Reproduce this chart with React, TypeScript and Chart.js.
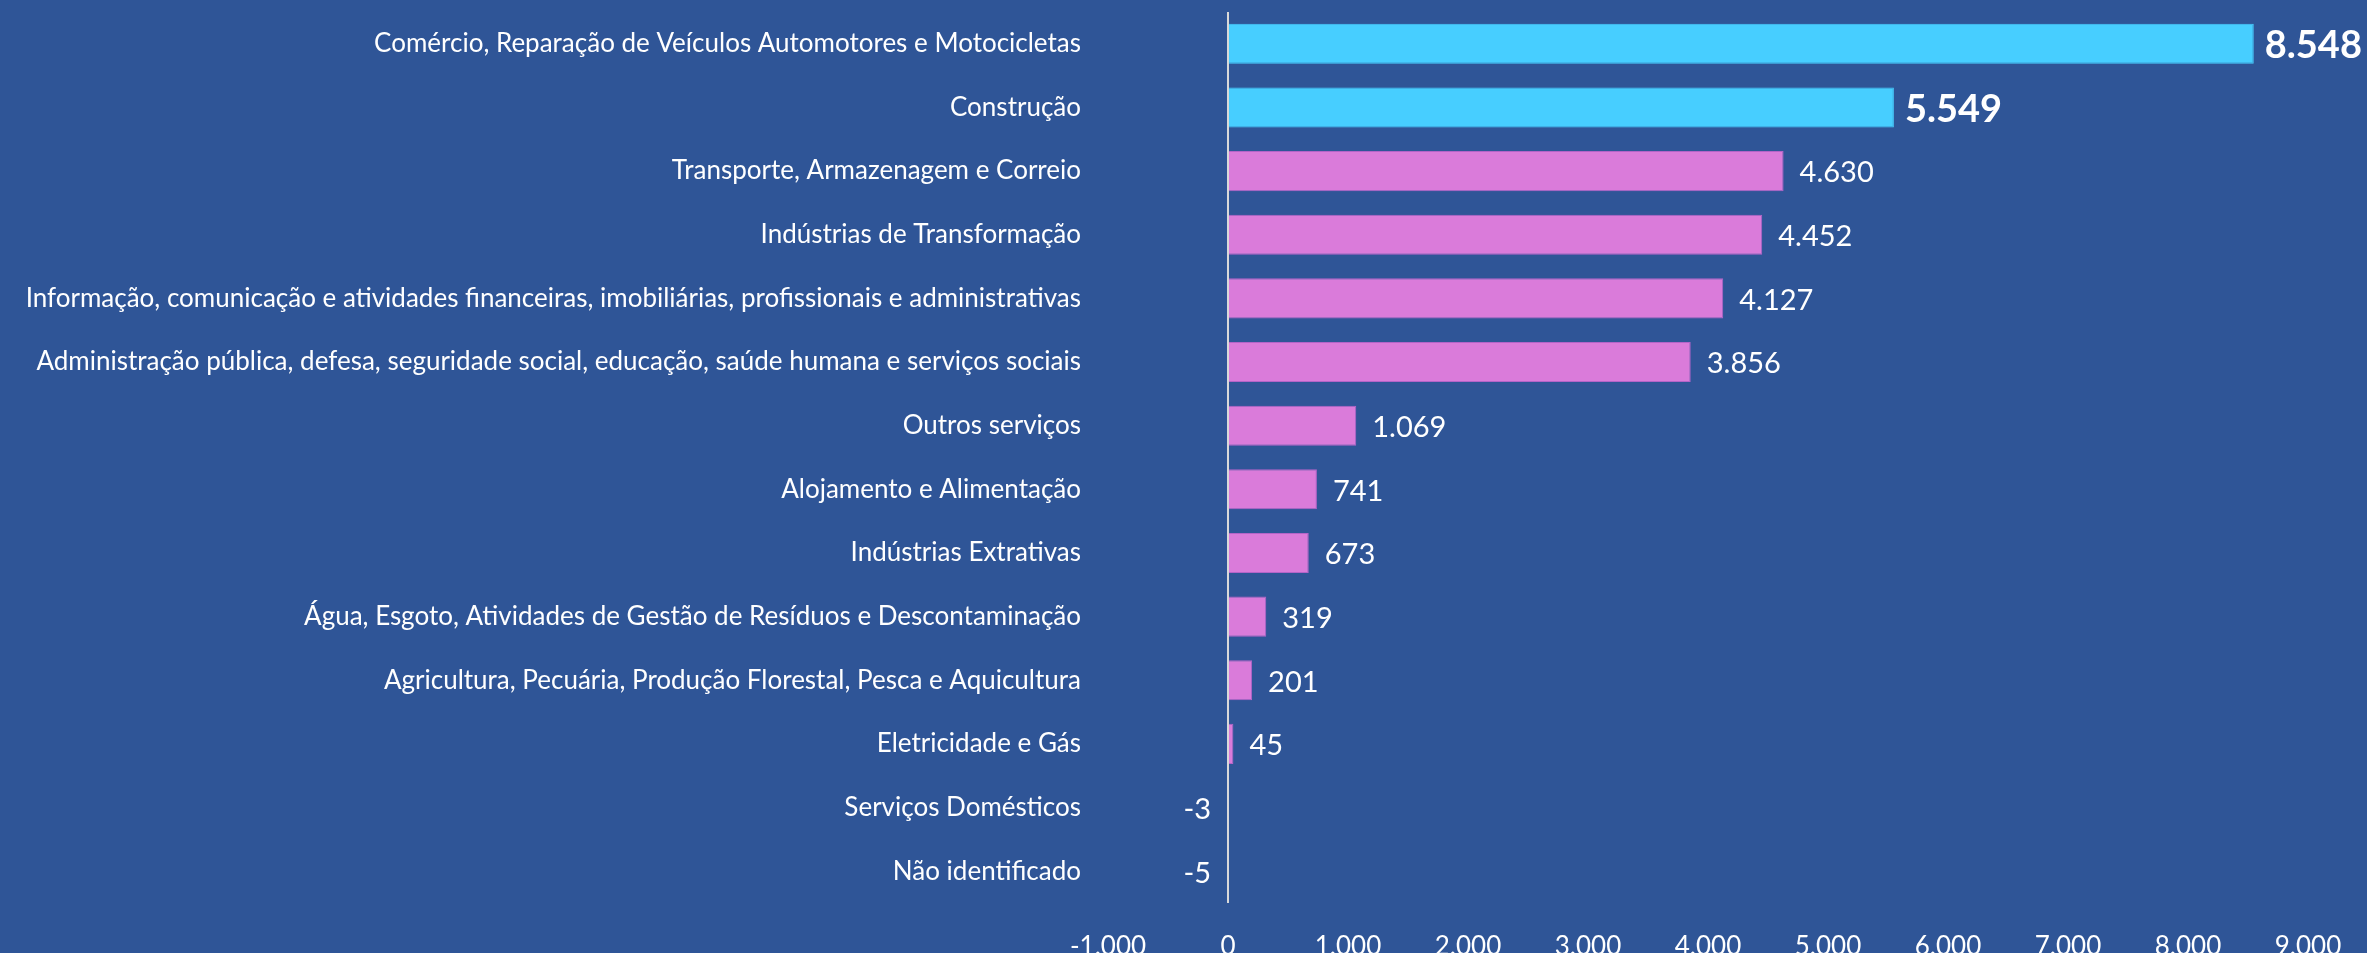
import React, { useEffect, useRef } from "react";
import { Chart, registerables } from "chart.js";

Chart.register(...registerables);

const categories: string[] = [
  "Comércio, Reparação de Veículos Automotores e Motocicletas",
  "Construção",
  "Transporte, Armazenagem e Correio",
  "Indústrias de Transformação",
  "Informação, comunicação e atividades financeiras, imobiliárias, profissionais e administrativas",
  "Administração pública, defesa, seguridade social, educação, saúde humana e serviços sociais",
  "Outros serviços",
  "Alojamento e Alimentação",
  "Indústrias Extrativas",
  "Água, Esgoto, Atividades de Gestão de Resíduos e Descontaminação",
  "Agricultura, Pecuária, Produção Florestal, Pesca e Aquicultura",
  "Eletricidade e Gás",
  "Serviços Domésticos",
  "Não identificado",
];

const values: number[] = [8548, 5549, 4630, 4452, 4127, 3856, 1069, 741, 673, 319, 201, 45, -3, -5];

const highlighted: boolean[] = [true, true, false, false, false, false, false, false, false, false, false, false, false, false];

const xMin = -1000;
const xMax = 9000;
const xStep = 1000;

const BG = "#2F5597";
const CYAN = "#47CEFF";
const MAGENTA = "#DA7BDA";
const MAGENTA_BORDER = "#B464C8";
const FONT = "Lato, 'Open Sans', sans-serif";

function fmt(v: number): string {
  const neg = v < 0;
  const s = Math.round(Math.abs(v)).toString().replace(/\B(?=(\d{3})+(?!\d))/g, ".");
  return (neg ? "-" : "") + s;
}

const valueLabels = {
  id: "valueLabels",
  afterDatasetsDraw(chart: any) {
    const ctx = chart.ctx;
    const meta = chart.getDatasetMeta(0);
    ctx.save();
    ctx.fillStyle = "#FFFFFF";
    ctx.textBaseline = "middle";
    meta.data.forEach((bar: any, i: number) => {
      const v = values[i];
      const bold = highlighted[i];
      ctx.font = bold ? `bold 38px ${FONT}` : `29px ${FONT}`;
      if (v >= 0) {
        ctx.textAlign = "left";
        ctx.fillText(fmt(v), bar.x + (bold ? 11 : 16), bar.y + 2);
      } else {
        ctx.textAlign = "right";
        ctx.fillText(fmt(v), bar.base - 17, bar.y + 2);
      }
    });
    ctx.restore();
  },
};

export default function App() {
  const ref = useRef<HTMLCanvasElement>(null);

  useEffect(() => {
    document.body.style.margin = "0";
    document.body.style.background = BG;
    const canvas = ref.current!;
    const chart = new Chart(canvas, {
      type: "bar",
      data: {
        labels: categories,
        datasets: [
          {
            data: values,
            backgroundColor: highlighted.map((h) => (h ? CYAN : MAGENTA)),
            borderColor: highlighted.map((h) => (h ? CYAN : MAGENTA_BORDER)),
            borderWidth: 1,
            barPercentage: 0.63,
            categoryPercentage: 1,
          },
        ],
      },
      options: {
        indexAxis: "y",
        responsive: false,
        animation: false,
        maintainAspectRatio: false,
        layout: { padding: { top: 12, right: 59, left: 0, bottom: 0 } },
        plugins: {
          legend: { display: false },
          tooltip: { enabled: false },
        },
        scales: {
          x: {
            min: xMin,
            max: xMax,
            grid: { display: false, drawTicks: false },
            border: { display: false },
            ticks: {
              stepSize: xStep,
              color: "#FFFFFF",
              font: { family: FONT, size: 26 },
              padding: 28,
              maxRotation: 0,
              callback: (v: any) => fmt(Number(v)),
            },
            afterFit(scale: any) {
              scale.height = 50;
              scale.paddingLeft = 0;
              scale.paddingRight = 0;
            },
          },
          y: {
            grid: {
              display: true,
              drawOnChartArea: false,
              drawTicks: false,
            },
            border: { display: false },
            ticks: {
              color: "#FFFFFF",
              font: { family: FONT, size: 26 },
              padding: 27,
              autoSkip: false,
            },
            afterFit(scale: any) {
              scale.width = 1108;
              scale.paddingTop = 0;
              scale.paddingBottom = 0;
            },
          },
        },
      },
      plugins: [
        valueLabels,
        {
          id: "zeroLine",
          afterDatasetsDraw(c: any) {
            const x = c.scales.x.getPixelForValue(0);
            const ctx = c.ctx;
            ctx.save();
            ctx.strokeStyle = "#D9D9D9";
            ctx.lineWidth = 2;
            ctx.beginPath();
            ctx.moveTo(x, c.chartArea.top);
            ctx.lineTo(x, c.chartArea.bottom);
            ctx.stroke();
            ctx.restore();
          },
        },
      ],
    } as any);
    return () => chart.destroy();
  }, []);

  return (
    <div style={{ position: "fixed", inset: 0, background: BG }}>
      <canvas ref={ref} width={2367} height={953} style={{ display: "block", width: 2367, height: 953 }} />
    </div>
  );
}
